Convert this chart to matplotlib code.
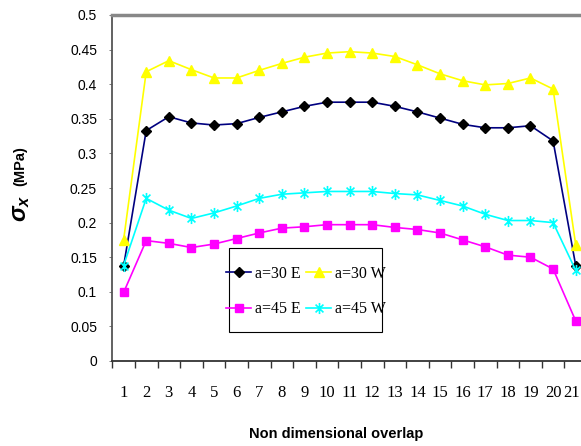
import numpy as np
import matplotlib
matplotlib.use("Agg")
import matplotlib.pyplot as plt
import matplotlib.transforms as mtransforms
from matplotlib.path import Path
from matplotlib.patches import Rectangle

plt.rcParams['mathtext.fontset'] = 'custom'
plt.rcParams['mathtext.it'] = 'Liberation Sans:italic:bold'
plt.rcParams['mathtext.rm'] = 'Liberation Sans:bold'

# ---- data ----
categories = list(range(1, 22))
a30E = [0.137, 0.333, 0.353, 0.344, 0.341, 0.343, 0.352, 0.360, 0.368, 0.374, 0.374,
        0.374, 0.368, 0.360, 0.351, 0.342, 0.337, 0.337, 0.340, 0.318, 0.138]
a30W = [0.175, 0.418, 0.434, 0.421, 0.409, 0.409, 0.420, 0.430, 0.439, 0.445, 0.447,
        0.445, 0.440, 0.428, 0.415, 0.405, 0.399, 0.401, 0.409, 0.393, 0.168]
a45E = [0.099, 0.174, 0.170, 0.164, 0.169, 0.177, 0.185, 0.192, 0.194, 0.197, 0.197,
        0.197, 0.193, 0.190, 0.185, 0.175, 0.165, 0.153, 0.150, 0.133, 0.058]
a45W = [0.138, 0.235, 0.218, 0.206, 0.214, 0.224, 0.235, 0.241, 0.243, 0.245, 0.245,
        0.245, 0.242, 0.240, 0.232, 0.224, 0.212, 0.203, 0.203, 0.200, 0.131]
series_labels = ['a=30 E', 'a=30 W', 'a=45 E', 'a=45 W']
yticks = [0, 0.05, 0.1, 0.15, 0.2, 0.25, 0.3, 0.35, 0.4, 0.45, 0.5]
ytick_labels = ['0', '0.05', '0.1', '0.15', '0.2', '0.25', '0.3', '0.35', '0.4', '0.45', '0.5']

# Excel-like star marker: X plus vertical line
d = 0.7071
star = Path([(-d, -d), (d, d), (-d, d), (d, -d), (0, -1), (0, 1)],
            [Path.MOVETO, Path.LINETO, Path.MOVETO, Path.LINETO, Path.MOVETO, Path.LINETO])

W, H = 581, 446
fig = plt.figure(figsize=(W / 100, H / 100), dpi=100)
ax = fig.add_axes([112.3 / W, (H - 361) / H, (587 - 112.3) / W, 346 / H])

x = np.array(categories)
l1, = ax.plot(x, a30E, color='#000080', lw=1.2, marker='D', ms=5, mfc='black', mec='black', label=series_labels[0])
l2, = ax.plot(x, a30W, color='#FFFF00', lw=1.2, marker='^', ms=7, mfc='#FFFF00', mec='#FFFF00', label=series_labels[1])
l3, = ax.plot(x, a45E, color='#FF00FF', lw=1.2, marker='s', ms=5.5, mfc='#FF00FF', mec='#FF00FF', label=series_labels[2])
l4, = ax.plot(x, a45W, color='#00FFFF', lw=1.2, marker=star, ms=8, mfc='none', mec='#00FFFF', mew=1.2, label=series_labels[3])

ax.set_xlim(0.5, 21.5)
ax.set_ylim(0, 0.5)
ax.set_yticks(yticks)
ax.set_yticklabels(ytick_labels, fontfamily='Liberation Sans', fontsize=10)
ax.tick_params(axis='y', length=2, width=0.6, color='#666666', pad=9)

ax.set_xticks(np.arange(0.5, 22, 1))
ax.set_xticklabels([])
ax.tick_params(axis='x', which='major', length=5, width=1.0, color='#333333')
ax.set_xticks(x, minor=True)
ax.set_xticklabels([str(c) for c in categories], minor=True, fontfamily='Liberation Serif', fontsize=12)
ax.tick_params(axis='x', which='minor', length=0, pad=17)
# nudge the last label so it stays inside the picture
last = ax.get_xticklabels(minor=True)[-1]
last.set_transform(last.get_transform() + mtransforms.ScaledTranslation(-4 / 100, 0, fig.dpi_scale_trans))

ax.spines['top'].set_color('#888888')
ax.spines['top'].set_linewidth(2.5)
ax.spines['left'].set_color('#555555')
ax.spines['left'].set_linewidth(1.3)
ax.spines['bottom'].set_color('#333333')
ax.spines['bottom'].set_linewidth(1.3)
ax.spines['right'].set_visible(False)

# legend frame (Excel-style box)
box = Rectangle((229 / W, 1 - 332 / H), (382 - 229) / W, (332 - 248) / H,
                transform=fig.transFigure, fill=True, facecolor='white',
                edgecolor='black', linewidth=0.8, zorder=4, clip_on=False)
ax.add_patch(box)
leg = ax.legend([l1, l3, l2, l4], [series_labels[0], series_labels[2], series_labels[1], series_labels[3]],
                ncol=2, loc='center', bbox_to_anchor=(306 / W, 1 - 291.5 / H),
                bbox_transform=fig.transFigure, frameon=False,
                prop={'family': 'Liberation Serif', 'size': 11.5},
                borderpad=0, handlelength=1.6, handletextpad=0.25, columnspacing=0.3,
                labelspacing=1.25, borderaxespad=0)
leg.set_zorder(6)

fig.text(336 / W, 1 - 434 / H, 'Non dimensional overlap', ha='center', va='center',
         fontfamily='Liberation Sans', fontweight='bold', fontsize=10.5)
fig.text(20 / W, 1 - 208 / H, r'$\sigma_x$', ha='center', va='center', rotation=90, fontsize=17)
fig.text(20 / W, 1 - 166 / H, '(MPa)', ha='center', va='center', rotation=90,
         fontfamily='Liberation Sans', fontweight='bold', fontsize=10.5)

fig.savefig('out.png', dpi=100)
